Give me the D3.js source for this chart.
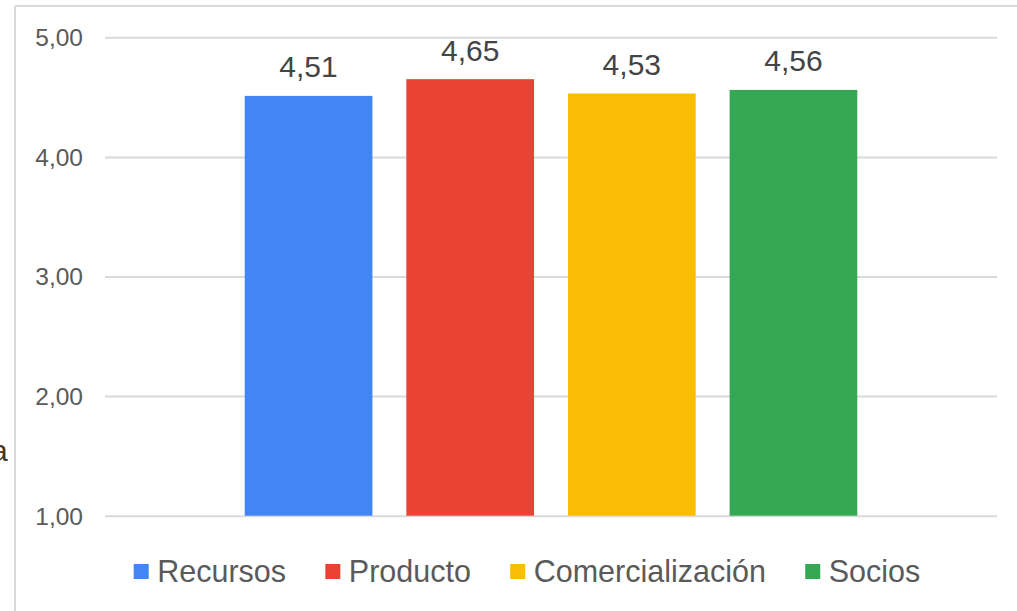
<!DOCTYPE html>
<html>
<head>
<meta charset="utf-8">
<script src="https://cdn.jsdelivr.net/npm/d3@7"></script>
<style>
  html, body { margin: 0; padding: 0; background: #fff; }
  svg { display: block; }
  svg text { font-family: "Liberation Sans", Arial, sans-serif; }
</style>
</head>
<body>
<svg id="chart" width="1017" height="611"></svg>
<script>
const categories = ["Recursos", "Producto", "Comercialización", "Socios"];
const values = [4.51, 4.65, 4.53, 4.56];
const colors = ["#4285f4", "#ea4335", "#fbbc04", "#34a853"];
const yTicks = [1, 2, 3, 4, 5];
const group = [""];

const svg = d3.select("#chart");
const W = 1017, H = 611;

// frame border
svg.append("line").attr("x1", 15).attr("x2", W + 5).attr("y1", 6).attr("y2", 6)
  .attr("stroke", "#dadada").attr("stroke-width", 2);
svg.append("line").attr("x1", 15).attr("x2", 15).attr("y1", 6).attr("y2", H + 5)
  .attr("stroke", "#dadada").attr("stroke-width", 2);

// cut-off letter at left edge (as in the reference)
svg.append("text").attr("x", -9).attr("y", 461)
  .attr("font-size", 30).attr("fill", "#3d3a26").text("a");

const plotL = 105, plotR = 997;
const y = d3.scaleLinear().domain([1, 5]).range([515.7, 37.3]);
const x0 = d3.scaleBand().domain(group).range([plotL, plotR]).padding(0.1857);
const x1 = d3.scaleBand().domain(categories).range([0, x0.bandwidth()]).paddingInner(0.21).paddingOuter(0);

const fmt = d => d.toFixed(2).replace(".", ",");

// gridlines + y labels
const yAxis = d3.axisLeft(y).tickValues(yTicks).tickSize(-(plotR - plotL)).tickPadding(22).tickFormat(fmt);
const gy = svg.append("g").attr("transform", `translate(${plotL},0)`).call(yAxis);
gy.attr("font-family", null).attr("font-size", null);
gy.select(".domain").remove();
gy.selectAll(".tick line").attr("stroke", "#dadada").attr("stroke-width", 2);
gy.selectAll(".tick text").attr("font-size", 24.5).attr("fill", "#5a5a5a").attr("dy", "0.34em");

// bars
const g = svg.append("g").attr("transform", `translate(${x0("")},0)`);
g.selectAll("rect").data(categories).enter().append("rect")
  .attr("x", d => x1(d))
  .attr("width", x1.bandwidth())
  .attr("y", (d, i) => y(values[i]))
  .attr("height", (d, i) => y(1) - y(values[i]))
  .attr("fill", (d, i) => colors[i]);

// value labels
g.selectAll("text.val").data(categories).enter().append("text")
  .attr("class", "val")
  .attr("x", d => x1(d) + x1.bandwidth() / 2)
  .attr("y", (d, i) => y(values[i]) - 18.6)
  .attr("text-anchor", "middle")
  .attr("font-size", 30).attr("fill", "#444")
  .text((d, i) => fmt(values[i]));

// legend
const leg = svg.append("g");
const sq = 15, gapSqText = 8.5, gapItems = 39.3, legBase = 582, legCenter = 527;
let cx = 0;
categories.forEach((c, i) => {
  const it = leg.append("g");
  it.append("rect").attr("x", 0).attr("y", legBase - 18).attr("width", sq).attr("height", sq).attr("fill", colors[i]);
  const t = it.append("text").attr("x", sq + gapSqText).attr("y", legBase)
    .attr("font-size", 30.5).attr("fill", "#5a5a5a").text(c);
  const w = sq + gapSqText + t.node().getComputedTextLength();
  it.attr("transform", `translate(${cx},0)`);
  cx += w + gapItems;
});
const total = cx - gapItems;
leg.attr("transform", `translate(${legCenter - total / 2},0)`);
</script>
</body>
</html>
